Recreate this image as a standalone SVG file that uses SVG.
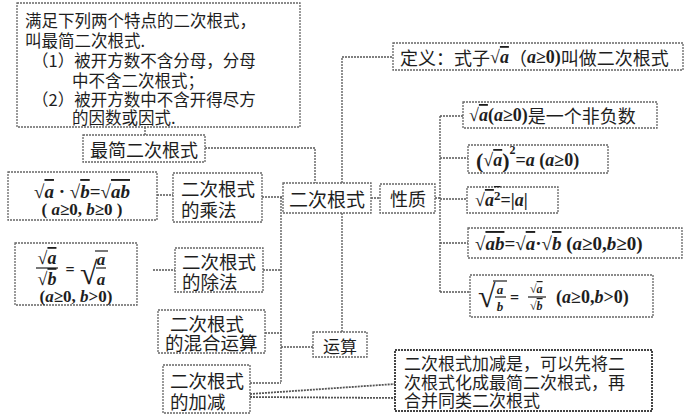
<svg xmlns="http://www.w3.org/2000/svg" width="700" height="418" viewBox="0 0 700 418">
<style>
.bx{fill:#fff;stroke:#666;stroke-width:1.3;stroke-dasharray:2 1}
.bx2{fill:#fff;stroke:#444;stroke-width:2;stroke-dasharray:2 1}
.cn{fill:none;stroke:#555;stroke-width:1.3;stroke-dasharray:2 1}
.t{font-family:"Noto Sans CJK SC","Liberation Serif",sans-serif;fill:#1e1e1e;dominant-baseline:central}
.m{font-family:"Liberation Serif","Noto Sans CJK SC",serif;fill:#1e1e1e;font-weight:bold;dominant-baseline:central}
.i{font-style:italic}
.ov{text-decoration:overline}
.vl{stroke:#1e1e1e;stroke-width:1.2}
</style>
<rect width="700" height="418" fill="#fff"/>
<g id="connectors">
<path class="cn" d="M145,127V135"/>
<path class="cn" d="M205,148H315V183"/>
<path class="cn" d="M342,183V57H393"/>
<path class="cn" d="M371,198H380"/>
<path class="cn" d="M435,198H440"/>
<path class="cn" d="M440,116V292"/>
<path class="cn" d="M440,116H463M440,158H468M440,199H467M440,243H468M440,292H470"/>
<path class="cn" d="M157,195H173"/>
<path class="cn" d="M262,197H283"/>
<path class="cn" d="M281,197V383"/>
<path class="cn" d="M153,270H175M263,270H281"/>
<path class="cn" d="M265,333H281"/>
<path class="cn" d="M281,347H313"/>
<path class="cn" d="M342,213V332"/>
<path class="cn" d="M250,383H281"/>
<path class="cn" style="stroke-width:1.8" d="M250,394L395,384M250,397L395,398"/>
</g>
<g id="def-simplest">
<rect class="bx" x="17" y="3" width="283" height="124"/>
<text class="t" font-size="16.5"><tspan x="25" y="20">满足下列两个特点的二次根式，</tspan><tspan x="25" y="40">叫最简二次根式.</tspan><tspan x="32" y="60">（1）被开方数不含分母，分母</tspan><tspan x="72" y="80">中不含二次根式；</tspan><tspan x="32" y="99">（2）被开方数中不含开得尽方</tspan><tspan x="72" y="117">的因数或因式.</tspan></text>
</g>
<g id="simplest">
<rect class="bx" x="83" y="135" width="122" height="27"/>
<text class="t" x="144" y="149" font-size="18" text-anchor="middle">最简二次根式</text>
</g>
<g id="root">
<rect class="bx" x="283" y="183" width="88" height="30"/>
<text class="t" x="327" y="198" font-size="19" text-anchor="middle">二次根式</text>
</g>
<g id="property">
<rect class="bx" x="380" y="184" width="55" height="29"/>
<text class="t" x="408" y="198" font-size="18" text-anchor="middle">性质</text>
</g>
<g id="definition">
<rect class="bx" x="393" y="43" width="290" height="27"/>
<text class="t" x="400" y="57" font-size="18">定义：式子<tspan class="m">√<tspan class="i ov">a</tspan></tspan>（<tspan class="m i">a</tspan><tspan class="m">≥0)</tspan>叫做二次根式</text>
</g>
<g id="p1">
<rect class="bx" x="463" y="102" width="194" height="26"/>
<text class="t" x="469" y="115" font-size="18"><tspan class="m">√<tspan class="i ov">a</tspan>(<tspan class="i">a</tspan>≥0)</tspan>是一个非负数</text>
</g>
<g id="p2">
<rect class="bx" x="468" y="145" width="140" height="28"/>
<text class="m" x="476" y="160" font-size="18"><tspan font-size="22">(</tspan>√<tspan class="i ov">a</tspan><tspan font-size="22">)</tspan><tspan font-size="12" dy="-10">2</tspan><tspan dy="10">=</tspan><tspan class="i">a</tspan> (<tspan class="i">a</tspan>≥0)</text>
</g>
<g id="p3">
<rect class="bx" x="467" y="187" width="91" height="26"/>
<text class="m" x="475" y="200" font-size="18">√<tspan class="i ov">a</tspan><tspan class="ov" font-size="13" dy="-5">2</tspan><tspan dy="5">=|<tspan class="i">a</tspan>|</tspan></text>
</g>
<g id="p4">
<rect class="bx" x="468" y="228" width="214" height="30"/>
<text class="m" x="475" y="243" font-size="19">√<tspan class="i ov">ab</tspan>=√<tspan class="i ov">a</tspan>·√<tspan class="i ov">b</tspan> (<tspan class="i">a</tspan>≥0,<tspan class="i">b</tspan>≥0)</text>
</g>
<g id="p5">
<rect class="bx" x="470" y="275" width="183" height="42"/>
<text class="m" x="478" y="296" font-size="32" font-weight="normal">√</text>
<line class="vl" x1="493" y1="281" x2="507" y2="281"/>
<text class="m i" x="500" y="289" font-size="13" text-anchor="middle">a</text>
<line class="vl" x1="495" y1="297" x2="506" y2="297"/>
<text class="m i" x="500" y="306" font-size="13" text-anchor="middle">b</text>
<text class="m" x="510" y="297" font-size="16">=</text>
<text class="m" x="530" y="289" font-size="12">√<tspan class="i ov">a</tspan></text>
<line class="vl" x1="528" y1="297" x2="546" y2="297"/>
<text class="m" x="530" y="306" font-size="12">√<tspan class="i ov">b</tspan></text>
<text class="m" x="556" y="297" font-size="18">(<tspan class="i">a</tspan>≥0,<tspan class="i">b</tspan>&gt;0)</text>
</g>
<g id="mul-formula">
<rect class="bx" x="8" y="172" width="149" height="48"/>
<text class="m" x="82" y="191" font-size="19" text-anchor="middle">√<tspan class="i ov">a</tspan> · √<tspan class="i ov">b</tspan>=√<tspan class="i ov">ab</tspan></text>
<text class="m" x="82" y="209" font-size="17" text-anchor="middle">( <tspan class="i">a</tspan>≥0, <tspan class="i">b</tspan>≥0 )</text>
</g>
<g id="mul">
<rect class="bx" x="173" y="173" width="89" height="49"/>
<text class="t" font-size="18.5"><tspan x="181" y="188">二次根式</tspan><tspan x="181" y="209">的乘法</tspan></text>
</g>
<g id="div-formula">
<rect class="bx" x="15" y="243" width="122" height="62"/>
<text class="m" x="47" y="258" font-size="18" text-anchor="middle">√<tspan class="i ov">a</tspan></text>
<line class="vl" x1="36" y1="268" x2="58" y2="268"/>
<text class="m" x="47" y="279" font-size="18" text-anchor="middle">√<tspan class="i ov">b</tspan></text>
<text class="m" x="70" y="269" font-size="16" text-anchor="middle">=</text>
<text class="m" x="80" y="273" font-size="32" font-weight="normal">√</text>
<line class="vl" x1="95" y1="251" x2="108" y2="251"/>
<text class="m i" x="101" y="259" font-size="17" text-anchor="middle">a</text>
<line class="vl" x1="96" y1="268" x2="106" y2="268"/>
<text class="m i" x="101" y="279" font-size="17" text-anchor="middle">a</text>
<text class="m" x="76" y="296" font-size="17" text-anchor="middle">(<tspan class="i">a</tspan>≥0, <tspan class="i">b</tspan>&gt;0)</text>
</g>
<g id="div">
<rect class="bx" x="175" y="248" width="88" height="44"/>
<text class="t" font-size="18.5"><tspan x="182" y="261">二次根式</tspan><tspan x="182" y="281">的除法</tspan></text>
</g>
<g id="mixed">
<rect class="bx" x="158" y="310" width="107" height="43"/>
<text class="t" font-size="18.5"><tspan x="170" y="323">二次根式</tspan><tspan x="165" y="342">的混合运算</tspan></text>
</g>
<g id="ops">
<rect class="bx" x="313" y="332" width="54" height="25"/>
<text class="t" x="340" y="345" font-size="17" text-anchor="middle">运算</text>
</g>
<g id="add">
<rect class="bx" x="163" y="365" width="87" height="48"/>
<text class="t" font-size="18.5"><tspan x="170" y="380">二次根式</tspan><tspan x="170" y="401">的加减</tspan></text>
</g>
<g id="add-desc">
<rect class="bx2" x="395" y="350" width="257" height="61"/>
<text class="t" font-size="17"><tspan x="404" y="362">二次根式加减是，可以先将二</tspan><tspan x="404" y="381">次根式化成最简二次根式，再</tspan><tspan x="404" y="399">合并同类二次根式</tspan></text>
</g>
</svg>
